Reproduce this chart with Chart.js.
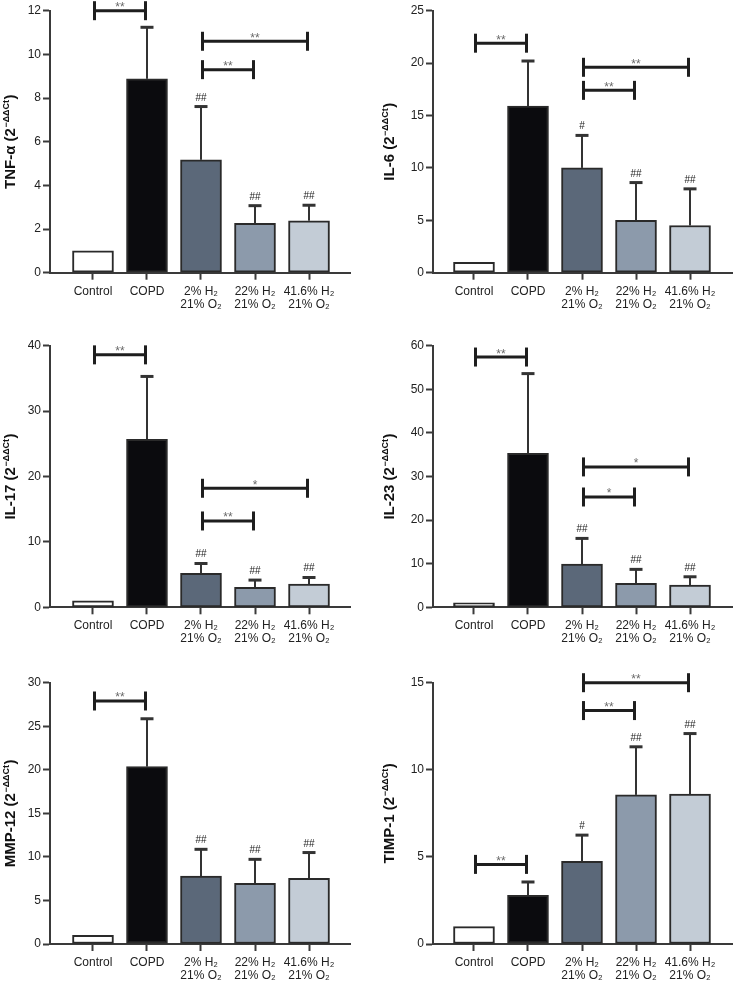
<!DOCTYPE html>
<html><head><meta charset="utf-8">
<script src="https://cdn.jsdelivr.net/npm/chart.js@4.4.1/dist/chart.umd.min.js"></script>
<style>
html,body{margin:0;padding:0;background:#fff;}
#wrap{position:relative;width:733px;height:989px;overflow:hidden;background:#fff;}
canvas{position:absolute;}
</style></head><body>
<div id="wrap">
<canvas id="c0" width="366" height="330" style="left:0;top:0"></canvas>
<canvas id="c1" width="367" height="330" style="left:366px;top:0"></canvas>
<canvas id="c2" width="366" height="330" style="left:0;top:330px"></canvas>
<canvas id="c3" width="367" height="330" style="left:366px;top:330px"></canvas>
<canvas id="c4" width="366" height="329" style="left:0;top:660px"></canvas>
<canvas id="c5" width="367" height="329" style="left:366px;top:660px"></canvas>
</div>
<script>
// ---------- data ----------
const categories = ["Control", "COPD", ["2% H₂", "21% O₂"], ["22% H₂", "21% O₂"], ["41.6% H₂", "21% O₂"]];
const barColors = ["#ffffff", "#0b0b0e", "#5b6879", "#8c9aab", "#c3ccd6"];

const tnfMean = [1.0, 8.88, 5.17, 2.26, 2.38];
const tnfSD   = [0, 2.36, 2.44, 0.81, 0.71];
const tnfTicks = [0, 2, 4, 6, 8, 10, 12];
const tnfSig = ["", "", "##", "##", "##"];
const tnfBrackets = [[0, 1, "**", 12.0], [2, 4, "**", 10.6], [2, 3, "**", 9.3]];

const il6Mean = [1.0, 15.9, 10.0, 5.0, 4.5];
const il6SD   = [0, 4.3, 3.1, 3.6, 3.5];
const il6Ticks = [0, 5, 10, 15, 20, 25];
const il6Sig = ["", "", "#", "##", "##"];
const il6Brackets = [[0, 1, "**", 21.9], [2, 4, "**", 19.6], [2, 3, "**", 17.4]];

const il17Mean = [1.0, 25.7, 5.2, 3.06, 3.56];
const il17SD   = [0, 9.6, 1.5, 1.1, 1.0];
const il17Ticks = [0, 10, 20, 30, 40];
const il17Sig = ["", "", "##", "##", "##"];
const il17Brackets = [[0, 1, "**", 38.6], [2, 4, "*", 18.2], [2, 3, "**", 13.2]];

const il23Mean = [1.0, 35.3, 9.9, 5.5, 5.1];
const il23SD   = [0, 18.3, 5.9, 3.2, 1.9];
const il23Ticks = [0, 10, 20, 30, 40, 50, 60];
const il23Sig = ["", "", "##", "##", "##"];
const il23Brackets = [[0, 1, "**", 57.4], [2, 4, "*", 32.2], [2, 3, "*", 25.3]];

const mmpMean = [1.0, 20.36, 7.8, 6.97, 7.54];
const mmpSD   = [0, 5.5, 3.07, 2.75, 2.96];
const mmpTicks = [0, 5, 10, 15, 20, 25, 30];
const mmpSig = ["", "", "##", "##", "##"];
const mmpBrackets = [[0, 1, "**", 27.9]];

const timpMean = [1.0, 2.8, 4.75, 8.56, 8.6];
const timpSD   = [0, 0.76, 1.5, 2.76, 3.48];
const timpTicks = [0, 5, 10, 15];
const timpSig = ["", "", "#", "##", "##"];
const timpBrackets = [[0, 1, "**", 4.57], [2, 4, "**", 15.0], [2, 3, "**", 13.4]];

// ---------- layout ----------
const FONT = "'Liberation Sans', Arial, 'DejaVu Sans', sans-serif";
const sides = {
  L: { yWidth: 50, padRight: 16, xmin: -0.796, xmax: 4.759, titleBase: 15 },
  R: { yWidth: 67, padRight: 0,  xmin: -0.759, xmax: 4.796, titleBase: 28 }
};
const rows = [
  { padTop: 10.7, xHeight: 57.3 },
  { padTop: 15.7, xHeight: 52.7 },
  { padTop: 22.7, xHeight: 45 }
];

const panels = {
  c0: { title: "TNF-α (2", mean: tnfMean, sd: tnfSD, ticks: tnfTicks, sig: tnfSig, brackets: tnfBrackets, side: "L", row: 0 },
  c1: { title: "IL-6 (2", mean: il6Mean, sd: il6SD, ticks: il6Ticks, sig: il6Sig, brackets: il6Brackets, side: "R", row: 0 },
  c2: { title: "IL-17 (2", mean: il17Mean, sd: il17SD, ticks: il17Ticks, sig: il17Sig, brackets: il17Brackets, side: "L", row: 1 },
  c3: { title: "IL-23 (2", mean: il23Mean, sd: il23SD, ticks: il23Ticks, sig: il23Sig, brackets: il23Brackets, side: "R", row: 1 },
  c4: { title: "MMP-12 (2", mean: mmpMean, sd: mmpSD, ticks: mmpTicks, sig: mmpSig, brackets: mmpBrackets, side: "L", row: 2 },
  c5: { title: "TIMP-1 (2", mean: timpMean, sd: timpSD, ticks: timpTicks, sig: timpSig, brackets: timpBrackets, side: "R", row: 2 }
};
const supText = "−ΔΔCt";

function line(ctx, x1, y1, x2, y2) { ctx.beginPath(); ctx.moveTo(x1, y1); ctx.lineTo(x2, y2); ctx.stroke(); }

const annot = {
  id: "annot",
  afterDatasetsDraw(chart) {
    const p = panels[chart.canvas.id];
    const xs = chart.scales.x, ys = chart.scales.y, ctx = chart.ctx;
    ctx.save();
    ctx.lineCap = "butt";
    // error bars + significance vs COPD
    p.mean.forEach((m, i) => {
      const sd = p.sd[i];
      const x = xs.getPixelForValue(i);
      const y0 = ys.getPixelForValue(m);
      const y1 = ys.getPixelForValue(m + sd);
      if (sd > 0) {
        ctx.strokeStyle = "#333";
        ctx.lineWidth = 2;
        line(ctx, x, y0, x, y1);
        ctx.lineWidth = 3;
        line(ctx, x - 6.5, y1, x + 6.5, y1);
      }
      if (p.sig[i]) {
        ctx.fillStyle = "#222";
        ctx.font = "10px " + FONT;
        ctx.textAlign = "center";
        ctx.textBaseline = "alphabetic";
        ctx.fillText(p.sig[i], x, y1 - 6);
      }
    });
    // comparison brackets
    p.brackets.forEach(([a, b, label, v]) => {
      const xa = xs.getPixelForValue(a) + 1.5;
      const xb = xs.getPixelForValue(b) - 1.5;
      const y = ys.getPixelForValue(v);
      ctx.strokeStyle = "#1e1e1e";
      ctx.lineWidth = 3;
      line(ctx, xa, y, xb, y);
      line(ctx, xa, y - 9.5, xa, y + 9.5);
      line(ctx, xb, y - 9.5, xb, y + 9.5);
      ctx.fillStyle = "#6a6a6a";
      ctx.font = "12px " + FONT;
      ctx.textAlign = "center";
      ctx.textBaseline = "alphabetic";
      ctx.fillText(label, (xa + xb) / 2, y + 0.5);
    });
    ctx.restore();
  },
  afterDraw(chart) {
    const p = panels[chart.canvas.id];
    const s = sides[p.side];
    const ctx = chart.ctx;
    const ca = chart.chartArea;
    const cy = (ca.top + ca.bottom) / 2;
    ctx.save();
    ctx.translate(s.titleBase, cy);
    ctx.rotate(-Math.PI / 2);
    ctx.fillStyle = "#111";
    ctx.textBaseline = "alphabetic";
    ctx.textAlign = "left";
    const mainFont = "bold 15px " + FONT;
    const supFont = "bold 9px " + FONT;
    ctx.font = mainFont; const w1 = ctx.measureText(p.title).width; const w3 = ctx.measureText(")").width;
    ctx.font = supFont; const w2 = ctx.measureText(supText).width;
    const total = w1 + w2 + w3 + 1;
    let x = -total / 2;
    ctx.font = mainFont; ctx.fillText(p.title, x, 0); x += w1 + 0.5;
    ctx.font = supFont; ctx.fillText(supText, x, -6.5); x += w2 + 0.5;
    ctx.font = mainFont; ctx.fillText(")", x, 0);
    ctx.restore();
  }
};

Object.keys(panels).forEach(id => {
  const p = panels[id];
  const s = sides[p.side];
  const r = rows[p.row];
  const ticks = p.ticks;
  new Chart(document.getElementById(id), {
    type: "bar",
    data: {
      datasets: [{
        data: p.mean.map((v, i) => ({ x: i, y: v })),
        backgroundColor: barColors,
        borderColor: "#2a2a2a",
        borderWidth: 2,
        borderSkipped: false,
        barThickness: 41
      }]
    },
    plugins: [annot],
    options: {
      responsive: false,
      animation: false,
      events: [],
      layout: { padding: { top: r.padTop, left: 0, right: s.padRight, bottom: 0 } },
      plugins: { legend: { display: false }, tooltip: { enabled: false } },
      scales: {
        x: {
          type: "linear",
          min: s.xmin, max: s.xmax,
          offset: false,
          grid: { display: true, offset: false, drawOnChartArea: false, drawTicks: true, tickLength: 7, tickWidth: 2, tickColor: "#3a3a3a" },
          border: { display: true, width: 2, color: "#3a3a3a" },
          afterBuildTicks: sc => { sc.ticks = categories.map((c, i) => ({ value: i })); },
          afterFit: sc => { sc.height = r.xHeight; },
          ticks: {
            autoSkip: false, maxRotation: 0, minRotation: 0,
            padding: 5,
            color: "#222",
            font: { family: FONT, size: 12, lineHeight: 1.1 },
            callback: v => categories[v]
          }
        },
        y: {
          type: "linear",
          min: ticks[0], max: ticks[ticks.length - 1],
          grid: { display: true, drawOnChartArea: false, drawTicks: true, tickLength: 7, tickWidth: 2, tickColor: "#3a3a3a" },
          border: { display: true, width: 2, color: "#3a3a3a" },
          afterBuildTicks: sc => { sc.ticks = ticks.map(v => ({ value: v })); },
          afterFit: sc => { sc.width = s.yWidth; },
          ticks: { padding: 2, color: "#222", font: { family: FONT, size: 12 } }
        }
      }
    }
  });
});
</script>
</body></html>
